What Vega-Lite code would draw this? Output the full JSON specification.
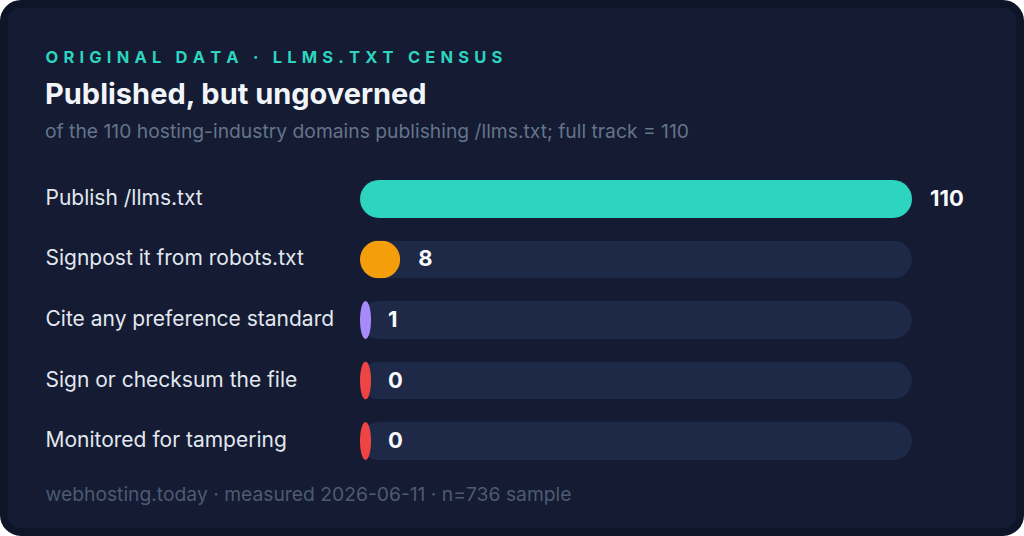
{
  "$schema": "https://vega.github.io/schema/vega-lite/v6.json",
  "width": 1016,
  "height": 528,
  "padding": 4,
  "autosize": {"type": "none"},
  "background": "#ffffff",
  "config": {
    "view": {"fill": "#141b32", "stroke": "#0e1528", "strokeWidth": 8, "cornerRadius": 17},
    "font": "Inter"
  },
  "title": {
    "text": "Published, but ungoverned",
    "subtitle": "of the 110 hosting-industry domains publishing /llms.txt; full track = 110",
    "anchor": "start",
    "frame": "group",
    "orient": "top",
    "offset": 0,
    "dx": 41,
    "dy": 138,
    "font": "Inter",
    "fontSize": 29,
    "fontWeight": 700,
    "color": "#f1f5f9",
    "subtitleFont": "Inter",
    "subtitleFontSize": 19.3,
    "subtitleColor": "#64748b",
    "subtitlePadding": 13
  },
  "data": {
    "values": [
      {"label": "Publish /llms.txt", "count": 110, "total": 110},
      {"label": "Signpost it from robots.txt", "count": 8, "total": 110},
      {"label": "Cite any preference standard", "count": 1, "total": 110},
      {"label": "Sign or checksum the file", "count": 0, "total": 110},
      {"label": "Monitored for tampering", "count": 0, "total": 110}
    ]
  },
  "encoding": {
    "y": {
      "field": "label",
      "type": "nominal",
      "sort": null,
      "scale": {"range": [176, 456], "paddingInner": 0.372, "paddingOuter": 0},
      "axis": {
        "orient": "left",
        "offset": -41,
        "domain": false,
        "ticks": false,
        "tickSize": 0,
        "grid": false,
        "labelPadding": 0,
        "labelAlign": "left",
        "labelBaseline": "middle",
        "labelFont": "Inter",
        "labelFontSize": 21,
        "labelColor": "#e2e8f0",
        "labelLimit": 400,
        "title": "O\u2009\u2009R\u2009\u2009I\u2009\u2009G\u2009\u2009I\u2009\u2009N\u2009\u2009A\u2009\u2009L\u2009\u2009 \u2009\u2009D\u2009\u2009A\u2009\u2009T\u2009\u2009A\u2009\u2009 \u2009\u2009·\u2009\u2009 \u2009\u2009L\u2009\u2009L\u2009\u2009M\u2009\u2009S\u2009\u2009.\u2009\u2009T\u2009\u2009X\u2009\u2009T\u2009\u2009 \u2009\u2009C\u2009\u2009E\u2009\u2009N\u2009\u2009S\u2009\u2009U\u2009\u2009S",
        "titleAngle": 0,
        "titleAlign": "left",
        "titleBaseline": "alphabetic",
        "titleX": 0,
        "titleY": 58,
        "titleFont": "Inter",
        "titleFontSize": 16.5,
        "titleFontWeight": 700,
        "titleColor": "#2dd4bf"
      }
    }
  },
  "layer": [
    {
      "mark": {"type": "bar", "cornerRadius": 19, "color": "#1e2947"},
      "encoding": {
        "x": {
          "field": "total",
          "type": "quantitative",
          "scale": {"domain": [0, 110], "range": [356, 908]},
          "axis": {
            "orient": "bottom",
            "offset": -32,
            "domain": false,
            "ticks": false,
            "labels": false,
            "grid": false,
            "title": "webhosting.today · measured 2026-06-11 · n=736 sample",
            "titleX": 41,
            "titleY": 0,
            "titleAlign": "left",
            "titleAnchor": "start",
            "titleBaseline": "alphabetic",
            "titleFont": "Inter",
            "titleFontSize": 19.3,
            "titleFontWeight": 400,
            "titleColor": "#4d5a72"
          }
        }
      }
    },
    {
      "transform": [{"filter": "datum.count >= 2"}],
      "mark": {"type": "bar", "cornerRadius": 19},
      "encoding": {
        "x": {"field": "count", "type": "quantitative"},
        "color": {
          "field": "label",
          "type": "nominal",
          "scale": {
            "domain": ["Publish /llms.txt", "Signpost it from robots.txt", "Cite any preference standard", "Sign or checksum the file", "Monitored for tampering"],
            "range": ["#2dd4bf", "#f59e0b", "#a78bfa", "#ef4444", "#ef4444"]
          },
          "legend": null
        }
      }
    },
    {
      "transform": [{"filter": "datum.count < 2"}],
      "mark": {"type": "point", "filled": true, "opacity": 1, "size": 1444, "shape": "M -0.29 0 A 0.29 1 0 1 0 0.29 0 A 0.29 1 0 1 0 -0.29 0 Z"},
      "encoding": {
        "x": {"datum": 1.1, "type": "quantitative"},
        "color": {"field": "label", "type": "nominal", "legend": null}
      }
    },
    {
      "transform": [{"filter": "datum.count >= 2"}],
      "mark": {"type": "text", "align": "left", "baseline": "middle", "dx": 18, "font": "Inter", "fontSize": 22, "fontWeight": 700, "color": "#f8fafc"},
      "encoding": {
        "x": {"field": "count", "type": "quantitative"},
        "text": {"field": "count", "type": "quantitative"}
      }
    },
    {
      "transform": [{"filter": "datum.count < 2"}],
      "mark": {"type": "text", "align": "left", "baseline": "middle", "dx": 18, "font": "Inter", "fontSize": 22, "fontWeight": 700, "color": "#f8fafc"},
      "encoding": {
        "x": {"datum": 2, "type": "quantitative"},
        "text": {"field": "count", "type": "quantitative"}
      }
    }
  ]
}
